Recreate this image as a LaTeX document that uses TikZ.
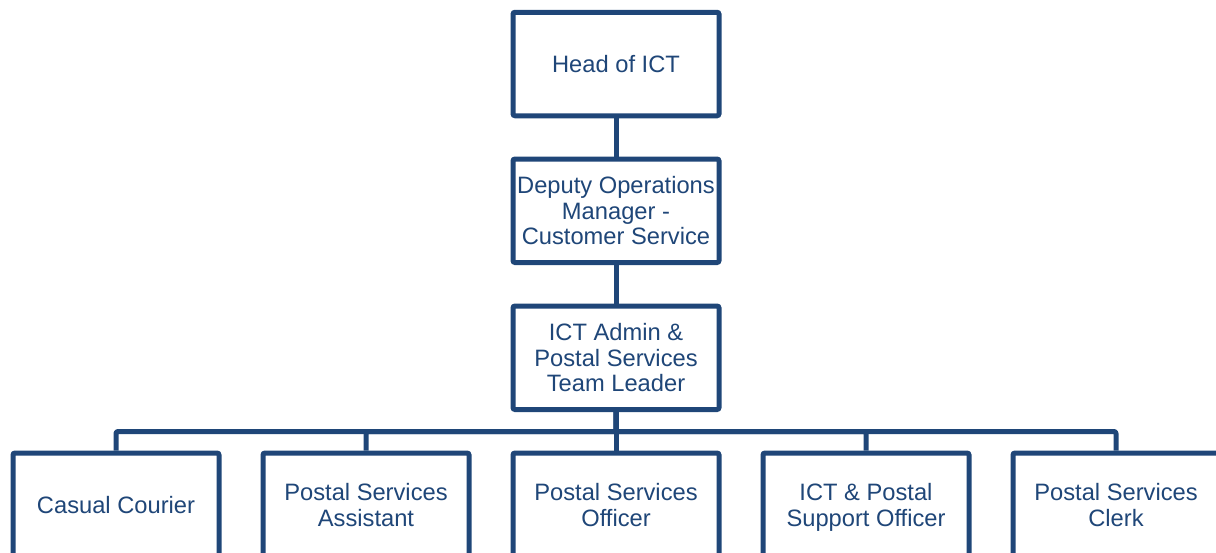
\documentclass[tikz,border=0pt]{standalone}
\usepackage{fontspec}
\setmainfont{Liberation Sans}
\definecolor{orgblue}{RGB}{31,70,120}
\begin{document}
\begin{tikzpicture}[x=1pt,y=-1pt,
  role/.style={draw=orgblue, line width=5pt, rounded corners=2pt, fill=white,
    minimum width=206pt, minimum height=103.5pt, inner sep=0pt, text depth=0pt,
    align=center, text=orgblue, font=\fontsize{23.7}{25.5}\selectfont},
  link/.style={draw=orgblue, line width=5pt, line join=round, rounded corners=2pt}]
  \useasboundingbox (0,0) rectangle (1216,552);

  % management chain
  \node[role] (head)   at (616,64)     {Head of ICT};
  \node[role] (deputy) at (616,210.75) {Deputy Operations\\Manager -\\Customer Service};
  \node[role] (lead)   at (616,357.75) {ICT Admin \&\\Postal Services\\Team Leader};

  % team members
  \node[role] (courier)   at (116,504.75)  {Casual Courier};
  \node[role] (assistant) at (366,504.75)  {Postal Services\\Assistant};
  \node[role] (officer)   at (616,504.75)  {Postal Services\\Officer};
  \node[role] (support)   at (866,504.75)  {ICT \& Postal\\Support Officer};
  \node[role] (clerk)     at (1116,504.75) {Postal Services\\Clerk};

  \coordinate (bus) at (616,431.5);

  % connectors
  \draw[link] (head.south) -- (deputy.north);
  \draw[link] (deputy.south) -- (lead.north);
  \foreach \c in {courier,assistant,officer,support,clerk}
    \draw[link] (lead.south) -- (lead.south |- bus) -| (\c.north);
\end{tikzpicture}
\end{document}
